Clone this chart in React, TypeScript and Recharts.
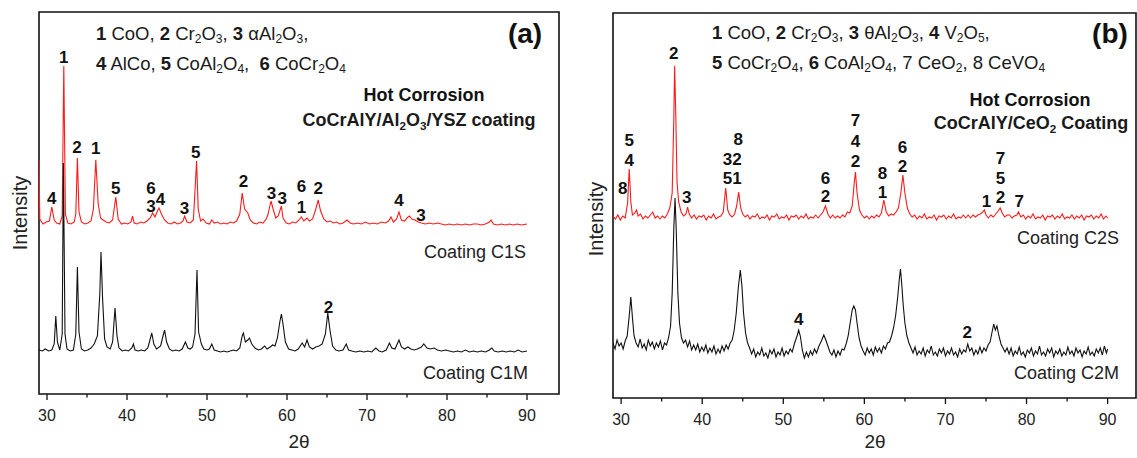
import React from 'react';
import { ComposedChart, Line, XAxis, YAxis, Scatter, ReferenceArea } from 'recharts';

const FONT = '"Liberation Sans", Arial, sans-serif';

// ---------- Panel (a) data: [2theta, intensity (a.u.)] ----------
const C1S: [number, number][] = [
  [29.0, 234], [29.1, 175], [29.5, 170], [29.9, 172], [30.3, 173], [30.6, 187], [30.9, 174], [31.2, 171], [31.6, 170], [31.9, 178],
  [32.1, 328], [32.3, 180], [32.6, 171], [33.0, 170], [33.4, 172], [33.6, 180], [33.8, 236], [34.0, 182], [34.3, 172], [34.7, 170],
  [35.1, 171], [35.5, 173], [35.8, 185], [36.1, 234], [36.4, 190], [36.7, 176], [37.0, 174], [37.4, 172], [37.8, 171], [38.2, 174],
  [38.6, 197], [38.9, 175], [39.3, 170], [39.7, 171], [40.1, 170], [40.5, 172], [40.7, 178], [40.9, 171], [41.3, 170], [41.7, 172],
  [42.1, 171], [42.5, 173], [42.9, 176], [43.2, 181], [43.5, 177], [43.8, 183], [44.0, 186], [44.3, 180], [44.7, 174], [45.1, 171],
  [45.5, 170], [45.9, 172], [46.3, 170], [46.7, 171], [47.0, 173], [47.2, 178], [47.5, 172], [47.9, 171], [48.3, 174], [48.7, 233],
  [48.9, 185], [49.2, 173], [49.5, 175], [49.9, 171], [50.3, 170], [50.6, 174], [50.9, 171], [51.3, 172], [51.7, 170], [52.1, 171],
  [52.5, 170], [52.9, 172], [53.3, 171], [53.7, 173], [54.1, 180], [54.4, 201], [54.7, 185], [55.1, 181], [55.4, 174], [55.8, 171],
  [56.2, 170], [56.6, 172], [57.0, 171], [57.4, 175], [57.6, 179], [58.0, 193], [58.3, 184], [58.6, 176], [58.9, 178], [59.3, 188],
  [59.5, 176], [59.9, 171], [60.3, 170], [60.7, 172], [61.1, 171], [61.5, 174], [61.8, 177], [62.1, 173], [62.5, 176], [62.8, 173],
  [63.2, 175], [63.6, 185], [63.9, 194], [64.2, 183], [64.6, 175], [65.0, 172], [65.4, 173], [65.8, 171], [66.2, 172], [66.6, 170],
  [67.0, 171], [67.5, 174], [67.9, 171], [68.3, 170], [68.8, 171], [69.3, 170], [69.8, 172], [70.3, 170], [70.8, 171], [71.3, 170],
  [71.8, 172], [72.3, 171], [72.7, 173], [73.0, 177], [73.3, 172], [73.7, 175], [74.0, 182], [74.3, 174], [74.7, 173], [75.0, 176],
  [75.3, 178], [75.6, 175], [76.0, 174], [76.4, 172], [76.8, 171], [77.3, 170], [77.8, 171], [78.3, 170], [78.8, 171], [79.3, 170],
  [79.8, 169], [80.3, 170], [80.8, 169], [81.3, 170], [81.8, 169], [82.3, 170], [82.8, 169], [83.3, 170], [83.8, 170], [84.3, 169],
  [84.8, 170], [85.3, 172], [85.5, 174], [85.8, 170], [86.3, 169], [86.8, 170], [87.3, 169], [87.8, 170], [88.3, 169], [88.8, 170],
  [89.3, 169], [90.0, 170],
];

const C1M: [number, number][] = [
  [29.0, 44], [29.4, 43], [29.8, 45], [30.2, 43], [30.6, 44], [30.9, 50], [31.1, 78], [31.3, 52], [31.6, 44], [31.9, 60],
  [32.05, 231], [32.25, 60], [32.5, 45], [32.9, 43], [33.3, 44], [33.6, 60], [33.8, 127], [34.0, 62], [34.3, 45], [34.7, 43],
  [35.1, 44], [35.5, 46], [35.9, 50], [36.3, 58], [36.6, 100], [36.75, 142], [36.95, 95], [37.2, 55], [37.5, 47], [37.9, 45],
  [38.2, 52], [38.5, 86], [38.75, 58], [39.0, 46], [39.4, 43], [39.8, 44], [40.2, 43], [40.6, 46], [40.8, 50], [41.0, 44],
  [41.4, 43], [41.8, 44], [42.2, 43], [42.6, 46], [42.9, 55], [43.1, 61], [43.35, 50], [43.7, 45], [44.2, 48], [44.5, 58],
  [44.7, 64], [44.95, 52], [45.3, 45], [45.7, 43], [46.1, 44], [46.5, 43], [46.9, 45], [47.3, 52], [47.6, 46], [47.9, 45],
  [48.2, 47], [48.5, 60], [48.75, 124], [48.95, 62], [49.3, 50], [49.6, 45], [50.0, 44], [50.3, 45], [50.6, 50], [50.9, 44],
  [51.3, 43], [51.7, 42], [52.1, 43], [52.5, 42], [52.9, 43], [53.3, 44], [53.7, 43], [54.1, 46], [54.4, 58], [54.55, 61],
  [54.8, 52], [55.1, 54], [55.3, 56], [55.6, 50], [56.0, 46], [56.4, 44], [56.8, 45], [57.2, 48], [57.5, 45], [57.9, 47],
  [58.2, 49], [58.5, 48], [58.8, 56], [59.1, 72], [59.3, 80], [59.5, 70], [59.8, 52], [60.2, 45], [60.6, 44], [61.0, 43],
  [61.4, 45], [61.9, 51], [62.2, 47], [62.5, 54], [62.8, 47], [63.2, 45], [63.6, 47], [64.0, 48], [64.4, 50], [64.8, 60],
  [65.1, 81], [65.35, 65], [65.7, 48], [66.1, 44], [66.5, 43], [67.0, 44], [67.4, 50], [67.7, 44], [68.1, 43], [68.6, 42],
  [69.1, 43], [69.6, 42], [70.1, 43], [70.6, 42], [71.1, 46], [71.5, 43], [71.9, 42], [72.4, 44], [72.8, 51], [73.1, 46],
  [73.5, 45], [74.0, 54], [74.3, 47], [74.7, 45], [75.1, 47], [75.5, 45], [75.9, 44], [76.3, 45], [76.8, 47], [77.1, 50],
  [77.5, 46], [77.9, 45], [78.4, 46], [78.8, 44], [79.3, 43], [79.8, 44], [80.3, 43], [80.8, 42], [81.3, 43], [81.8, 42],
  [82.3, 44], [82.8, 42], [83.3, 43], [83.8, 42], [84.3, 43], [84.8, 42], [85.3, 44], [85.6, 46], [85.9, 43], [86.4, 42],
  [86.9, 43], [87.4, 42], [87.9, 43], [88.4, 42], [88.9, 44], [89.4, 42], [90.0, 43],
];

// peak labels panel (a): [2theta, height, text]
const LABELS_A: [number, number, string][] = [
  [32.1, 337, '1'], [33.75, 247, '2'], [36.1, 246, '1'], [38.6, 206, '5'], [30.6, 196, '4'],
  [43.0, 206, '6'], [43.0, 188, '3'], [44.2, 195, '4'], [47.2, 186, '3'], [48.6, 242, '5'],
  [54.55, 213, '2'], [58.05, 201, '3'], [59.4, 196, '3'], [61.8, 208, '6'], [61.8, 187, '1'],
  [63.9, 206, '2'], [74.0, 194, '4'], [76.75, 179, '3'], [65.2, 87, '2'],
];

// ---------- Panel (b) data ----------
const C2S: [number, number][] = [
  [29.0, 182], [29.3, 179], [29.6, 183], [29.9, 178], [30.2, 182], [30.5, 180], [30.8, 195], [31.0, 229], [31.2, 196], [31.4, 183],
  [31.7, 185], [31.9, 188], [32.1, 182], [32.4, 184], [32.7, 179], [33.0, 182], [33.3, 180], [33.6, 183], [33.9, 186], [34.2, 180],
  [34.5, 182], [34.8, 179], [35.1, 182], [35.4, 180], [35.7, 184], [36.0, 190], [36.3, 205], [36.5, 280], [36.6, 332], [36.75, 280],
  [36.9, 215], [37.1, 196], [37.4, 186], [37.7, 182], [38.0, 184], [38.2, 191], [38.4, 184], [38.7, 180], [39.0, 183], [39.3, 179],
  [39.6, 182], [39.9, 181], [40.2, 183], [40.5, 178], [40.8, 182], [41.1, 180], [41.4, 184], [41.7, 179], [42.0, 181], [42.3, 182],
  [42.6, 186], [42.9, 210], [43.15, 188], [43.4, 183], [43.7, 181], [44.0, 184], [44.25, 192], [44.5, 206], [44.75, 190], [45.0, 184],
  [45.3, 181], [45.6, 183], [45.9, 179], [46.2, 182], [46.5, 181], [46.8, 184], [47.1, 179], [47.4, 181], [47.7, 180], [48.0, 183],
  [48.3, 178], [48.6, 182], [48.9, 181], [49.2, 184], [49.5, 179], [49.8, 181], [50.1, 180], [50.4, 183], [50.7, 178], [51.0, 182],
  [51.3, 181], [51.6, 183], [51.9, 179], [52.2, 182], [52.5, 180], [52.8, 184], [53.1, 179], [53.4, 181], [53.7, 180], [54.0, 183],
  [54.3, 180], [54.6, 183], [54.9, 186], [55.2, 192], [55.5, 184], [55.8, 180], [56.1, 183], [56.4, 180], [56.7, 182], [57.0, 180],
  [57.3, 183], [57.6, 181], [57.9, 186], [58.2, 185], [58.5, 192], [58.75, 215], [58.9, 226], [59.1, 205], [59.4, 188], [59.7, 183],
  [60.0, 180], [60.3, 182], [60.6, 179], [60.9, 182], [61.2, 180], [61.5, 183], [61.8, 181], [62.1, 185], [62.4, 198], [62.7, 186],
  [63.0, 182], [63.3, 184], [63.6, 183], [63.9, 186], [64.2, 190], [64.5, 205], [64.75, 223], [65.0, 205], [65.3, 190], [65.6, 184],
  [65.9, 181], [66.2, 183], [66.5, 179], [66.8, 182], [67.1, 180], [67.4, 184], [67.7, 179], [68.0, 181], [68.3, 180], [68.6, 183],
  [68.9, 178], [69.2, 182], [69.5, 181], [69.8, 183], [70.1, 179], [70.4, 182], [70.7, 180], [71.0, 184], [71.3, 179], [71.6, 181],
  [71.9, 180], [72.2, 183], [72.5, 180], [72.8, 183], [73.1, 180], [73.4, 183], [73.7, 181], [74.0, 183], [74.3, 184], [74.6, 186],
  [74.8, 188], [75.0, 183], [75.3, 180], [75.6, 183], [75.9, 181], [76.2, 184], [76.5, 187], [76.75, 190], [77.0, 185], [77.3, 181],
  [77.6, 183], [77.9, 183], [78.2, 180], [78.5, 182], [78.8, 183], [79.0, 186], [79.3, 181], [79.6, 183], [79.9, 179], [80.2, 182],
  [80.5, 180], [80.8, 184], [81.1, 179], [81.4, 181], [81.7, 180], [82.0, 183], [82.3, 178], [82.6, 182], [82.9, 181], [83.2, 183],
  [83.5, 179], [83.8, 182], [84.1, 180], [84.4, 184], [84.7, 179], [85.0, 181], [85.3, 180], [85.6, 183], [85.9, 179], [86.2, 182],
  [86.5, 180], [86.8, 183], [87.1, 178], [87.4, 182], [87.7, 181], [88.0, 183], [88.3, 179], [88.6, 182], [88.9, 180], [89.2, 184],
  [89.5, 179], [89.8, 182], [90.0, 180],
];

const C2M: [number, number][] = [
  [29.0, 55], [29.25, 49], [29.5, 58], [29.75, 52], [30.0, 55], [30.25, 49], [30.5, 57], [30.75, 62], [31.0, 82], [31.2, 101],
  [31.4, 80], [31.6, 62], [31.85, 55], [32.1, 51], [32.35, 59], [32.6, 50], [32.85, 54], [33.1, 48], [33.35, 58], [33.6, 52],
  [33.85, 56], [34.1, 49], [34.35, 55], [34.6, 51], [34.85, 57], [35.1, 48], [35.35, 55], [35.6, 53], [35.85, 60], [36.1, 72],
  [36.3, 105], [36.5, 170], [36.65, 200], [36.8, 168], [37.0, 105], [37.2, 75], [37.45, 60], [37.7, 55], [37.95, 58], [38.2, 51],
  [38.45, 57], [38.7, 48], [38.95, 53], [39.2, 48], [39.45, 54], [39.7, 46], [39.95, 51], [40.2, 47], [40.45, 53], [40.7, 45],
  [40.95, 50], [41.2, 46], [41.45, 52], [41.7, 44], [41.95, 49], [42.2, 45], [42.45, 52], [42.7, 47], [42.95, 53], [43.2, 49],
  [43.45, 55], [43.7, 58], [43.95, 68], [44.2, 85], [44.45, 110], [44.7, 128], [44.9, 112], [45.1, 85], [45.35, 65], [45.6, 55],
  [45.85, 50], [46.1, 44], [46.35, 49], [46.6, 41], [46.85, 46], [47.1, 43], [47.35, 50], [47.6, 42], [47.85, 45], [48.1, 40],
  [48.35, 48], [48.6, 44], [48.85, 49], [49.1, 41], [49.35, 46], [49.6, 43], [49.85, 50], [50.1, 42], [50.35, 47], [50.6, 44],
  [50.85, 49], [51.1, 46], [51.4, 55], [51.7, 62], [51.9, 68], [52.1, 62], [52.35, 48], [52.6, 40], [52.85, 46], [53.1, 41],
  [53.35, 47], [53.6, 43], [53.85, 49], [54.1, 45], [54.4, 52], [54.7, 57], [55.0, 63], [55.25, 58], [55.5, 52], [55.75, 46],
  [56.0, 43], [56.25, 48], [56.5, 41], [56.75, 47], [57.0, 43], [57.25, 49], [57.5, 48], [57.75, 54], [58.0, 62], [58.25, 75],
  [58.5, 88], [58.7, 92], [58.9, 88], [59.1, 75], [59.35, 60], [59.6, 52], [59.85, 47], [60.1, 43], [60.35, 50], [60.6, 45],
  [60.85, 49], [61.1, 43], [61.35, 51], [61.6, 46], [61.85, 50], [62.1, 45], [62.35, 52], [62.6, 49], [62.85, 55], [63.1, 56],
  [63.35, 62], [63.6, 70], [63.85, 82], [64.1, 100], [64.3, 118], [64.45, 129], [64.6, 115], [64.8, 92], [65.0, 75], [65.25, 62],
  [65.5, 55], [65.75, 50], [66.0, 45], [66.25, 51], [66.5, 43], [66.75, 47], [67.0, 44], [67.25, 50], [67.5, 42], [67.75, 48],
  [68.0, 45], [68.25, 52], [68.5, 43], [68.75, 46], [69.0, 42], [69.25, 49], [69.5, 45], [69.75, 50], [70.0, 42], [70.25, 47],
  [70.5, 44], [70.75, 50], [71.0, 43], [71.25, 46], [71.5, 41], [71.75, 49], [72.0, 44], [72.25, 48], [72.5, 46], [72.75, 54],
  [73.0, 47], [73.25, 50], [73.5, 43], [73.75, 48], [74.0, 44], [74.25, 51], [74.5, 45], [74.75, 50], [75.0, 47], [75.25, 53],
  [75.5, 56], [75.75, 66], [75.95, 74], [76.15, 68], [76.35, 72], [76.6, 62], [76.85, 54], [77.1, 50], [77.35, 46], [77.6, 50],
  [77.85, 44], [78.1, 50], [78.35, 42], [78.6, 47], [78.85, 44], [79.1, 51], [79.35, 43], [79.6, 46], [79.85, 41], [80.1, 48],
  [80.35, 45], [80.6, 50], [80.85, 42], [81.1, 47], [81.35, 44], [81.6, 52], [81.85, 43], [82.1, 46], [82.35, 42], [82.6, 49],
  [82.85, 45], [83.1, 50], [83.35, 41], [83.6, 47], [83.85, 44], [84.1, 49], [84.35, 42], [84.6, 46], [84.85, 43], [85.1, 51],
  [85.35, 44], [85.6, 47], [85.85, 42], [86.1, 50], [86.35, 45], [86.6, 48], [86.85, 41], [87.1, 47], [87.35, 44], [87.6, 51],
  [87.85, 43], [88.1, 46], [88.35, 42], [88.6, 49], [88.85, 45], [89.1, 50], [89.35, 43], [89.6, 52], [89.85, 45], [90.0, 49],
];

const LABELS_B: [number, number, string][] = [
  [30.2, 210, '8'], [31.0, 238, '4'], [31.0, 258, '5'], [36.5, 345, '2'], [38.1, 201, '3'],
  [44.45, 259, '8'], [43.7, 239, '32'], [43.7, 220, '51'],
  [55.2, 220, '6'], [55.2, 202, '2'], [58.9, 278, '7'], [58.9, 257, '4'], [58.9, 237, '2'],
  [62.25, 225, '8'], [62.25, 206, '1'], [64.7, 251, '6'], [64.7, 232, '2'], [75.05, 197, '1'],
  [76.8, 240, '7'], [76.8, 220, '5'], [76.8, 201, '2'], [79.1, 197, '7'],
  [51.9, 79, '4'], [72.7, 66, '2'],
];

const TICKS = [30, 35, 40, 45, 50, 55, 60, 65, 70, 75, 80, 85, 90];

const toPts = (arr: [number, number][]) => arr.map(([x, v]) => ({ x, v }));
const toLbl = (arr: [number, number, string][]) => arr.map(([x, v, t]) => ({ x, v, t }));

const AxisTick = (props: any) => {
  const { x, y, payload } = props;
  const major = payload.value % 10 === 0;
  return (
    <g>
      <line x1={x} x2={x} y1={y} y2={y + (major ? 6 : 3.5)} stroke="#111" strokeWidth={1.3} />
      {major && (
        <text x={x} y={y + 21} textAnchor="middle" dominantBaseline="central" fontSize={16} fill="#222" fontFamily={FONT}>
          {payload.value}
        </text>
      )}
    </g>
  );
};

const PeakLabel = (props: any) => {
  const { cx, cy, payload } = props;
  if (cx == null || cy == null) return <g />;
  return (
    <text x={cx} y={cy} textAnchor="middle" dominantBaseline="central" fontSize={17} fontWeight="bold" fill="#111" fontFamily={FONT}>
      {payload.t}
    </text>
  );
};

type Seg = { t: string; b?: boolean; s?: boolean };

const Rich = ({ x, y, segs, size, anchor = 'start', bold = false }: { x: number; y: number; segs: Seg[]; size: number; anchor?: string; bold?: boolean }) => {
  let inSub = false;
  const shift = size * 0.3;
  return (
    <text x={x} y={y} textAnchor={anchor as any} dominantBaseline="central" fontSize={size} fill="#1a1a1a" fontFamily={FONT}
      fontWeight={bold ? 'bold' : 'normal'} style={{ whiteSpace: 'pre' }}>
      {segs.map((sg, i) => {
        let dy = 0;
        if (sg.s && !inSub) { dy = shift; inSub = true; }
        else if (!sg.s && inSub) { dy = -shift; inSub = false; }
        return (
          <tspan key={i} dy={dy} fontSize={sg.s ? size * 0.65 : size} fontWeight={sg.b || bold ? 'bold' : 'normal'}>
            {sg.t}
          </tspan>
        );
      })}
    </text>
  );
};

const LEG_A1: Seg[] = [{ t: '1', b: true }, { t: ' CoO, ' }, { t: '2', b: true }, { t: ' Cr' }, { t: '2', s: true }, { t: 'O' }, { t: '3', s: true }, { t: ', ' }, { t: '3', b: true }, { t: ' αAl' }, { t: '2', s: true }, { t: 'O' }, { t: '3', s: true }, { t: ',' }];
const LEG_A2: Seg[] = [{ t: '4', b: true }, { t: ' AlCo, ' }, { t: '5', b: true }, { t: ' CoAl' }, { t: '2', s: true }, { t: 'O' }, { t: '4', s: true }, { t: ',  ' }, { t: '6', b: true }, { t: ' CoCr' }, { t: '2', s: true }, { t: 'O' }, { t: '4', s: true }];
const LEG_B1: Seg[] = [{ t: '1', b: true }, { t: ' CoO, ' }, { t: '2', b: true }, { t: ' Cr' }, { t: '2', s: true }, { t: 'O' }, { t: '3', s: true }, { t: ', ' }, { t: '3', b: true }, { t: ' θAl' }, { t: '2', s: true }, { t: 'O' }, { t: '3', s: true }, { t: ', ' }, { t: '4', b: true }, { t: ' V' }, { t: '2', s: true }, { t: 'O' }, { t: '5', s: true }, { t: ',' }];
const LEG_B2: Seg[] = [{ t: '5', b: true }, { t: ' CoCr' }, { t: '2', s: true }, { t: 'O' }, { t: '4', s: true }, { t: ', ' }, { t: '6', b: true }, { t: ' CoAl' }, { t: '2', s: true }, { t: 'O' }, { t: '4', s: true }, { t: ', 7 CeO' }, { t: '2', s: true }, { t: ', 8 CeVO' }, { t: '4', s: true }];
const TITLE_A2: Seg[] = [{ t: 'CoCrAlY/Al' }, { t: '2', s: true }, { t: 'O' }, { t: '3', s: true }, { t: '/YSZ coating' }];
const TITLE_B2: Seg[] = [{ t: 'CoCrAlY/CeO' }, { t: '2', s: true }, { t: ' Coating' }];

const Panel = ({ width, margin, xMax, yMax, xAxisH, red, black, labels }: any) => (
  <ComposedChart width={width} height={458} margin={margin}>
    <XAxis dataKey="x" type="number" domain={[29, xMax]} allowDataOverflow ticks={TICKS} interval={0}
      axisLine={false} tickLine={false} tickSize={0} tickMargin={0} height={xAxisH} tick={<AxisTick />} />
    <YAxis type="number" domain={[0, yMax]} allowDataOverflow hide />
    <ReferenceArea x1={29} x2={xMax} y1={0} y2={yMax} fill="none" fillOpacity={0} stroke="#111" strokeWidth={1.6} ifOverflow="visible" />
    <Line data={red} dataKey="v" type="linear" stroke="#ff1a1a" strokeWidth={1.1} dot={false} isAnimationActive={false} />
    <Line data={black} dataKey="v" type="linear" stroke="#111" strokeWidth={1.1} dot={false} isAnimationActive={false} />
    <Scatter data={labels} dataKey="v" shape={<PeakLabel />} isAnimationActive={false} />
  </ComposedChart>
);

export default function App() {
  return (
    <div style={{ position: 'absolute', left: 0, top: 0, width: 1137, height: 458, background: '#fff', overflow: 'hidden' }}>
      <div style={{ position: 'absolute', left: 0, top: 0 }}>
        <Panel width={570} margin={{ top: 12, right: 11, bottom: 0, left: 39 }} xMax={94} yMax={382} xAxisH={64}
          red={toPts(C1S)} black={toPts(C1M)} labels={toLbl(LABELS_A)} />
      </div>
      <div style={{ position: 'absolute', left: 590, top: 0 }}>
        <Panel width={547} margin={{ top: 13, right: 1, bottom: 0, left: 23 }} xMax={93.5} yMax={385} xAxisH={60}
          red={toPts(C2S)} black={toPts(C2M)} labels={toLbl(LABELS_B)} />
      </div>
      <svg width={1137} height={458} style={{ position: 'absolute', left: 0, top: 0, pointerEvents: 'none' }}>
        {/* panel (a) */}
        <Rich x={96} y={33} segs={LEG_A1} size={18.5} />
        <Rich x={96} y={63} segs={LEG_A2} size={18.5} />
        <text x={525} y={33} textAnchor="middle" dominantBaseline="central" fontSize={28} fontWeight="bold" fill="#111" fontFamily={FONT}>(a)</text>
        <text x={424} y={95} textAnchor="middle" dominantBaseline="central" fontSize={18} fontWeight="bold" fill="#111" fontFamily={FONT}>Hot Corrosion</text>
        <Rich x={419} y={120} segs={TITLE_A2} size={18} anchor="middle" bold />
        <text x={526} y={252} textAnchor="end" dominantBaseline="central" fontSize={18} fill="#222" fontFamily={FONT}>Coating C1S</text>
        <text x={528} y={373} textAnchor="end" dominantBaseline="central" fontSize={18} fill="#222" fontFamily={FONT}>Coating C1M</text>
        <text x={20} y={213} transform="rotate(-90 20 213)" textAnchor="middle" dominantBaseline="central" fontSize={20} fill="#222" fontFamily={FONT}>Intensity</text>
        <text x={299} y={441} textAnchor="middle" dominantBaseline="central" fontSize={19} fill="#222" fontFamily={FONT}>2θ</text>
        {/* panel (b) */}
        <Rich x={712} y={32} segs={LEG_B1} size={18.5} />
        <Rich x={712} y={62} segs={LEG_B2} size={18.5} />
        <text x={1110} y={33} textAnchor="middle" dominantBaseline="central" fontSize={28} fontWeight="bold" fill="#111" fontFamily={FONT}>(b)</text>
        <text x={1030} y={100} textAnchor="middle" dominantBaseline="central" fontSize={18} fontWeight="bold" fill="#111" fontFamily={FONT}>Hot Corrosion</text>
        <Rich x={1031} y={123} segs={TITLE_B2} size={18} anchor="middle" bold />
        <text x={1119} y={238} textAnchor="end" dominantBaseline="central" fontSize={18} fill="#222" fontFamily={FONT}>Coating C2S</text>
        <text x={1119} y={373} textAnchor="end" dominantBaseline="central" fontSize={18} fill="#222" fontFamily={FONT}>Coating C2M</text>
        <text x={596} y={219} transform="rotate(-90 596 219)" textAnchor="middle" dominantBaseline="central" fontSize={20} fill="#222" fontFamily={FONT}>Intensity</text>
        <text x={875} y={441} textAnchor="middle" dominantBaseline="central" fontSize={19} fill="#222" fontFamily={FONT}>2θ</text>
      </svg>
    </div>
  );
}
